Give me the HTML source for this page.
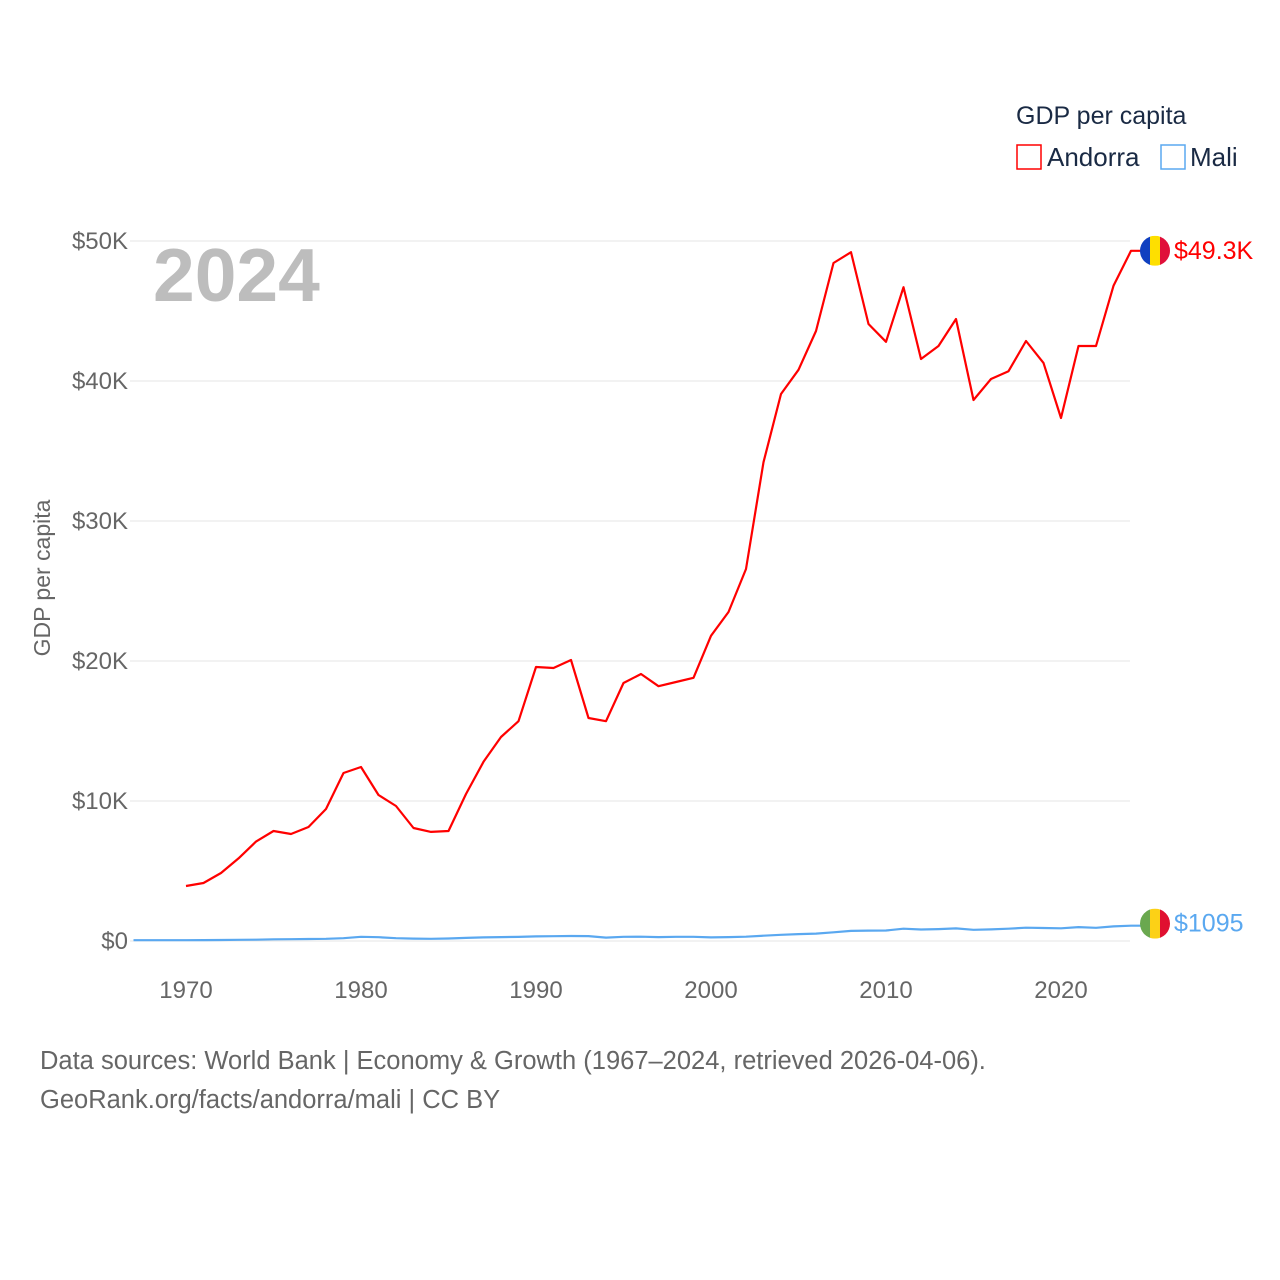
<!DOCTYPE html>
<html><head><meta charset="utf-8"><style>
html,body{margin:0;padding:0;background:#fff;width:1280px;height:1280px;overflow:hidden}
svg{display:block;font-family:"Liberation Sans",sans-serif}
</style></head><body>
<svg id="chart" width="1280" height="1280" viewBox="0 0 1280 1280" xmlns="http://www.w3.org/2000/svg">
<g id="grid"></g>
<g id="yticks"></g>
<g id="xticks"></g>
<text x="153" y="301" font-size="75" font-weight="bold" fill="#bdbdbd">2024</text>
<text transform="translate(50,578) rotate(-90)" text-anchor="middle" font-size="23" fill="#666">GDP per capita</text>
<g>
<text x="1016" y="124" font-size="25" fill="#1a2a44">GDP per capita</text>
<g><rect x="1017" y="145" width="24" height="24" fill="none" stroke="#f00" stroke-width="1.5"/><text x="1047" y="166" font-size="26" fill="#1a2a44">Andorra</text></g>
<g><rect x="1161" y="145" width="24" height="24" fill="none" stroke="#5aa8f0" stroke-width="1.5"/><text x="1190" y="166" font-size="26" fill="#1a2a44">Mali</text></g>
</g>
<g id="series"></g>
<text x="40" y="1069" font-size="25.5" fill="#666">Data sources: World Bank | Economy &amp; Growth (1967–2024, retrieved 2026-04-06).</text>
<text x="40" y="1108" font-size="25.5" fill="#666">GeoRank.org/facts/andorra/mali | CC BY</text>
</svg>
<script>
const andorraYears=[1970,1971,1972,1973,1974,1975,1976,1977,1978,1979,1980,1981,1982,1983,1984,1985,1986,1987,1988,1989,1990,1991,1992,1993,1994,1995,1996,1997,1998,1999,2000,2001,2002,2003,2004,2005,2006,2007,2008,2009,2010,2011,2012,2013,2014,2015,2016,2017,2018,2019,2020,2021,2022,2023,2024];
const andorraValues=[3930,4140,4860,5900,7100,7860,7640,8140,9430,12000,12430,10430,9640,8070,7790,7860,10500,12800,14570,15700,19570,19500,20070,15930,15700,18430,19070,18200,18500,18800,21800,23500,26570,34200,39070,40800,43570,48430,49200,44070,42800,46700,41570,42500,44430,38640,40140,40700,42860,41290,37360,42500,42500,46800,49300];
const maliYears=[1967,1968,1969,1970,1971,1972,1973,1974,1975,1976,1977,1978,1979,1980,1981,1982,1983,1984,1985,1986,1987,1988,1989,1990,1991,1992,1993,1994,1995,1996,1997,1998,1999,2000,2001,2002,2003,2004,2005,2006,2007,2008,2009,2010,2011,2012,2013,2014,2015,2016,2017,2018,2019,2020,2021,2022,2023,2024];
const maliValues=[60,60,55,60,65,75,85,90,120,130,140,160,200,300,270,200,170,160,180,220,260,280,290,330,340,360,350,240,300,310,280,300,300,260,280,310,380,440,490,530,620,720,740,750,880,820,850,900,800,830,880,950,930,910,990,940,1040,1095];
const yTicks=[0,10000,20000,30000,40000,50000];
const yTickLabels=["$0","$10K","$20K","$30K","$40K","$50K"];
const xTicks=[1970,1980,1990,2000,2010,2020];
const NS="http://www.w3.org/2000/svg";
const xS=y=>186+(y-1970)*17.5;
const yS=v=>941-v*0.014;
function mk(tag,attrs,parent){const e=document.createElementNS(NS,tag);for(const k in attrs)e.setAttribute(k,attrs[k]);parent.appendChild(e);return e;}
const grid=document.getElementById('grid'),yt=document.getElementById('yticks'),xt=document.getElementById('xticks'),ser=document.getElementById('series');
yTicks.forEach((v,i)=>{
 const l=mk('line',{x1:130,x2:1130,y1:yS(v),y2:yS(v),stroke:'#e6e6e6','stroke-width':1},grid);
 
 
 const t=mk('text',{x:128,y:yS(v)+8,'text-anchor':'end','font-size':24,fill:'#666'},yt);
 t.textContent=yTickLabels[i];
 
 
});
xTicks.forEach(y=>{
 const t=mk('text',{x:xS(y),y:998,'text-anchor':'middle','font-size':24,fill:'#666'},xt);
 t.textContent=y;
 
 
});
function line(ys,vs,color,name){
 let d=ys.map((y,i)=>(i?'L':'M')+xS(y).toFixed(1)+','+yS(vs[i]).toFixed(1)).join('');
 d+='L1142,'+yS(vs[vs.length-1]).toFixed(1);
 const p=mk('path',{d:d,fill:'none',stroke:color,'stroke-width':2.2,'stroke-linejoin':'round'},ser);
 
 
}
line(andorraYears,andorraValues,'#ff0000','andorra-line');
line(maliYears,maliValues,'#5aa8f0','mali-line');
function flag(cx,cy,cols,name){
 const g=mk('g',{},ser);
 
 
 const id=name+'-clip';
 const cp=mk('clipPath',{id:id},g);mk('circle',{cx:cx,cy:cy,r:15},cp);
 const gg=mk('g',{'clip-path':'url(#'+id+')'},g);
 cols.forEach((c,i)=>mk('rect',{x:cx-15+i*10,y:cy-15,width:10.5,height:30,fill:c},gg));
}
const la=andorraValues[andorraValues.length-1], lm=maliValues[maliValues.length-1];
flag(1155,yS(la),['#1040c0','#fedf00','#e0103a'],'andorra-flag');
flag(1155,yS(lm)-2,['#6aa84f','#fcd116','#e01030'],'mali-flag');
const a=mk('text',{x:1174,y:yS(la)+8,'font-size':25,fill:'#ff0000'},ser);a.textContent='$'+(la/1000).toFixed(1)+'K';


const m=mk('text',{x:1174,y:yS(lm)+6,'font-size':25,fill:'#5aa8f0'},ser);m.textContent='$'+lm;


</script>
</body></html>
